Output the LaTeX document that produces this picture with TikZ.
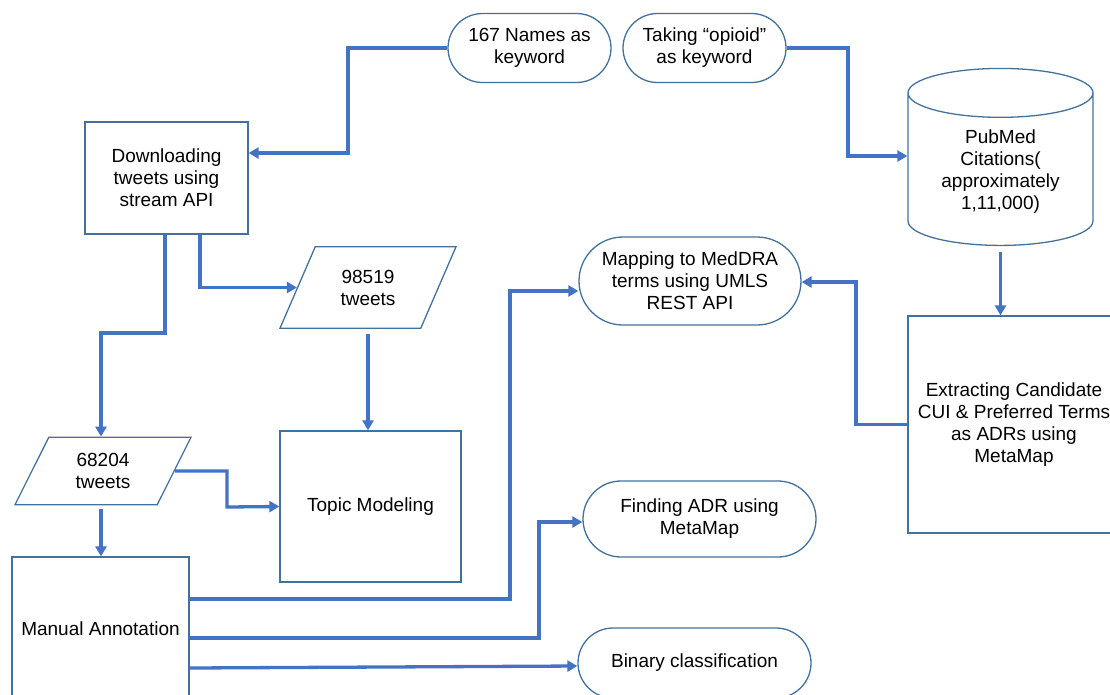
\documentclass[tikz,border=0pt]{standalone}
\usepackage{fontspec}
\setmainfont{Liberation Sans}
\usepackage{tikz}
\usetikzlibrary{arrows.meta,shapes.geometric,shapes.misc}

\definecolor{lineblue}{RGB}{68,114,196}
\definecolor{edgeblue}{RGB}{65,113,156}

\begin{document}
\begin{tikzpicture}[x=1pt,y=-1pt,
    font=\fontsize{19}{22}\selectfont,
    box/.style={draw=edgeblue, line width=1.3pt, align=center, inner sep=2pt},
    proc/.style={box, rectangle, minimum width=#1},
    term/.style={box, rounded rectangle, rounded rectangle arc length=180},
    data/.style={box, trapezium, trapezium left angle=#1, trapezium right angle=180-#1,
        trapezium stretches body, minimum width=176},
    flow/.style={draw=lineblue, line width=3.3pt, -{Triangle[length=10pt,width=11pt]}}]
      \useasboundingbox (0,0) rectangle (1110,694);

	% boxes
	\node[proc=163, minimum height=112] (dl) at (166.5,178) {Downloading\\tweets using\\stream API};
	\node[term, minimum width=167, minimum height=69] (names) at (529.5,48) {167 Names as\\keyword};
	\node[term, minimum width=167, minimum height=69] (opioid) at (704.5,48) {Taking “opioid”\\as keyword};
	\node[box, cylinder, shape border rotate=90, aspect=0.4, minimum width=185, minimum height=177] (pubmed) at (1000.5,172) {PubMed\\Citations(\\approximately\\1,11,000)};
	\node[term, minimum width=226, minimum height=88] (mapping) at (690,281) {Mapping to MedDRA\\terms using UMLS\\REST API};
	\node[proc=212, minimum height=217] (extract) at (1014,424.5) {Extracting Candidate\\CUI \& Preferred Terms\\as ADRs using\\MetaMap};
	\node[data=66.6, inner ysep=23pt] (tw98) at (368,287.5) {98519\\tweets};
	\node[data=63.4, inner ysep=16pt] (tw68) at (103,471) {68204\\tweets};
	\node[proc=181, minimum height=151] (topic) at (370.5,506.5) {Topic Modeling};
	\node[proc=177, minimum height=144] (manual) at (100.5,629) {Manual Annotation};
	\node[term, minimum width=237, minimum height=76] (finding) at (699.5,519) {Finding ADR using\\MetaMap};
	\node[term, minimum width=237, minimum height=70] (binary) at (694.5,663) {Binary classification};

	% connectors
	\draw[flow] (names.west) -| (348,153) -- (dl.east |- 348,153);
	\draw[flow] (opioid.east) -| (848,156) -- (pubmed.west |- 848,156);
	\draw[flow, shorten <=6pt] (pubmed.south) -- (pubmed.south |- extract.north);
	\draw[flow] (extract.west) -| (856,282) -- (mapping.east |- 856,282);
	\draw[flow] (dl.south -| 165,0) |- (101,333) -- (tw68.north -| 101,0);
	\draw[flow] (dl.south -| 200,0) |- (tw98.west);
	\draw[flow, shorten <=5pt] (tw98.south) -- (tw98.south |- topic.north);
	\draw[flow] (tw68.east) -| (227,507) -- (topic.west);
	\draw[flow, shorten <=4pt] (tw68.south -| 101,0) -- (manual.north -| 101,0);

	\draw[flow] (manual.east |- 0,599) -| (510,291) -- (mapping.west |- 0,291);
	\draw[flow] (manual.east |- 0,638) -| (539,522) -- (finding.west |- 0,522);
	\draw[flow] (manual.east |- 0,668) -- (binary.west |- 0,666);
\end{tikzpicture}
\end{document}
